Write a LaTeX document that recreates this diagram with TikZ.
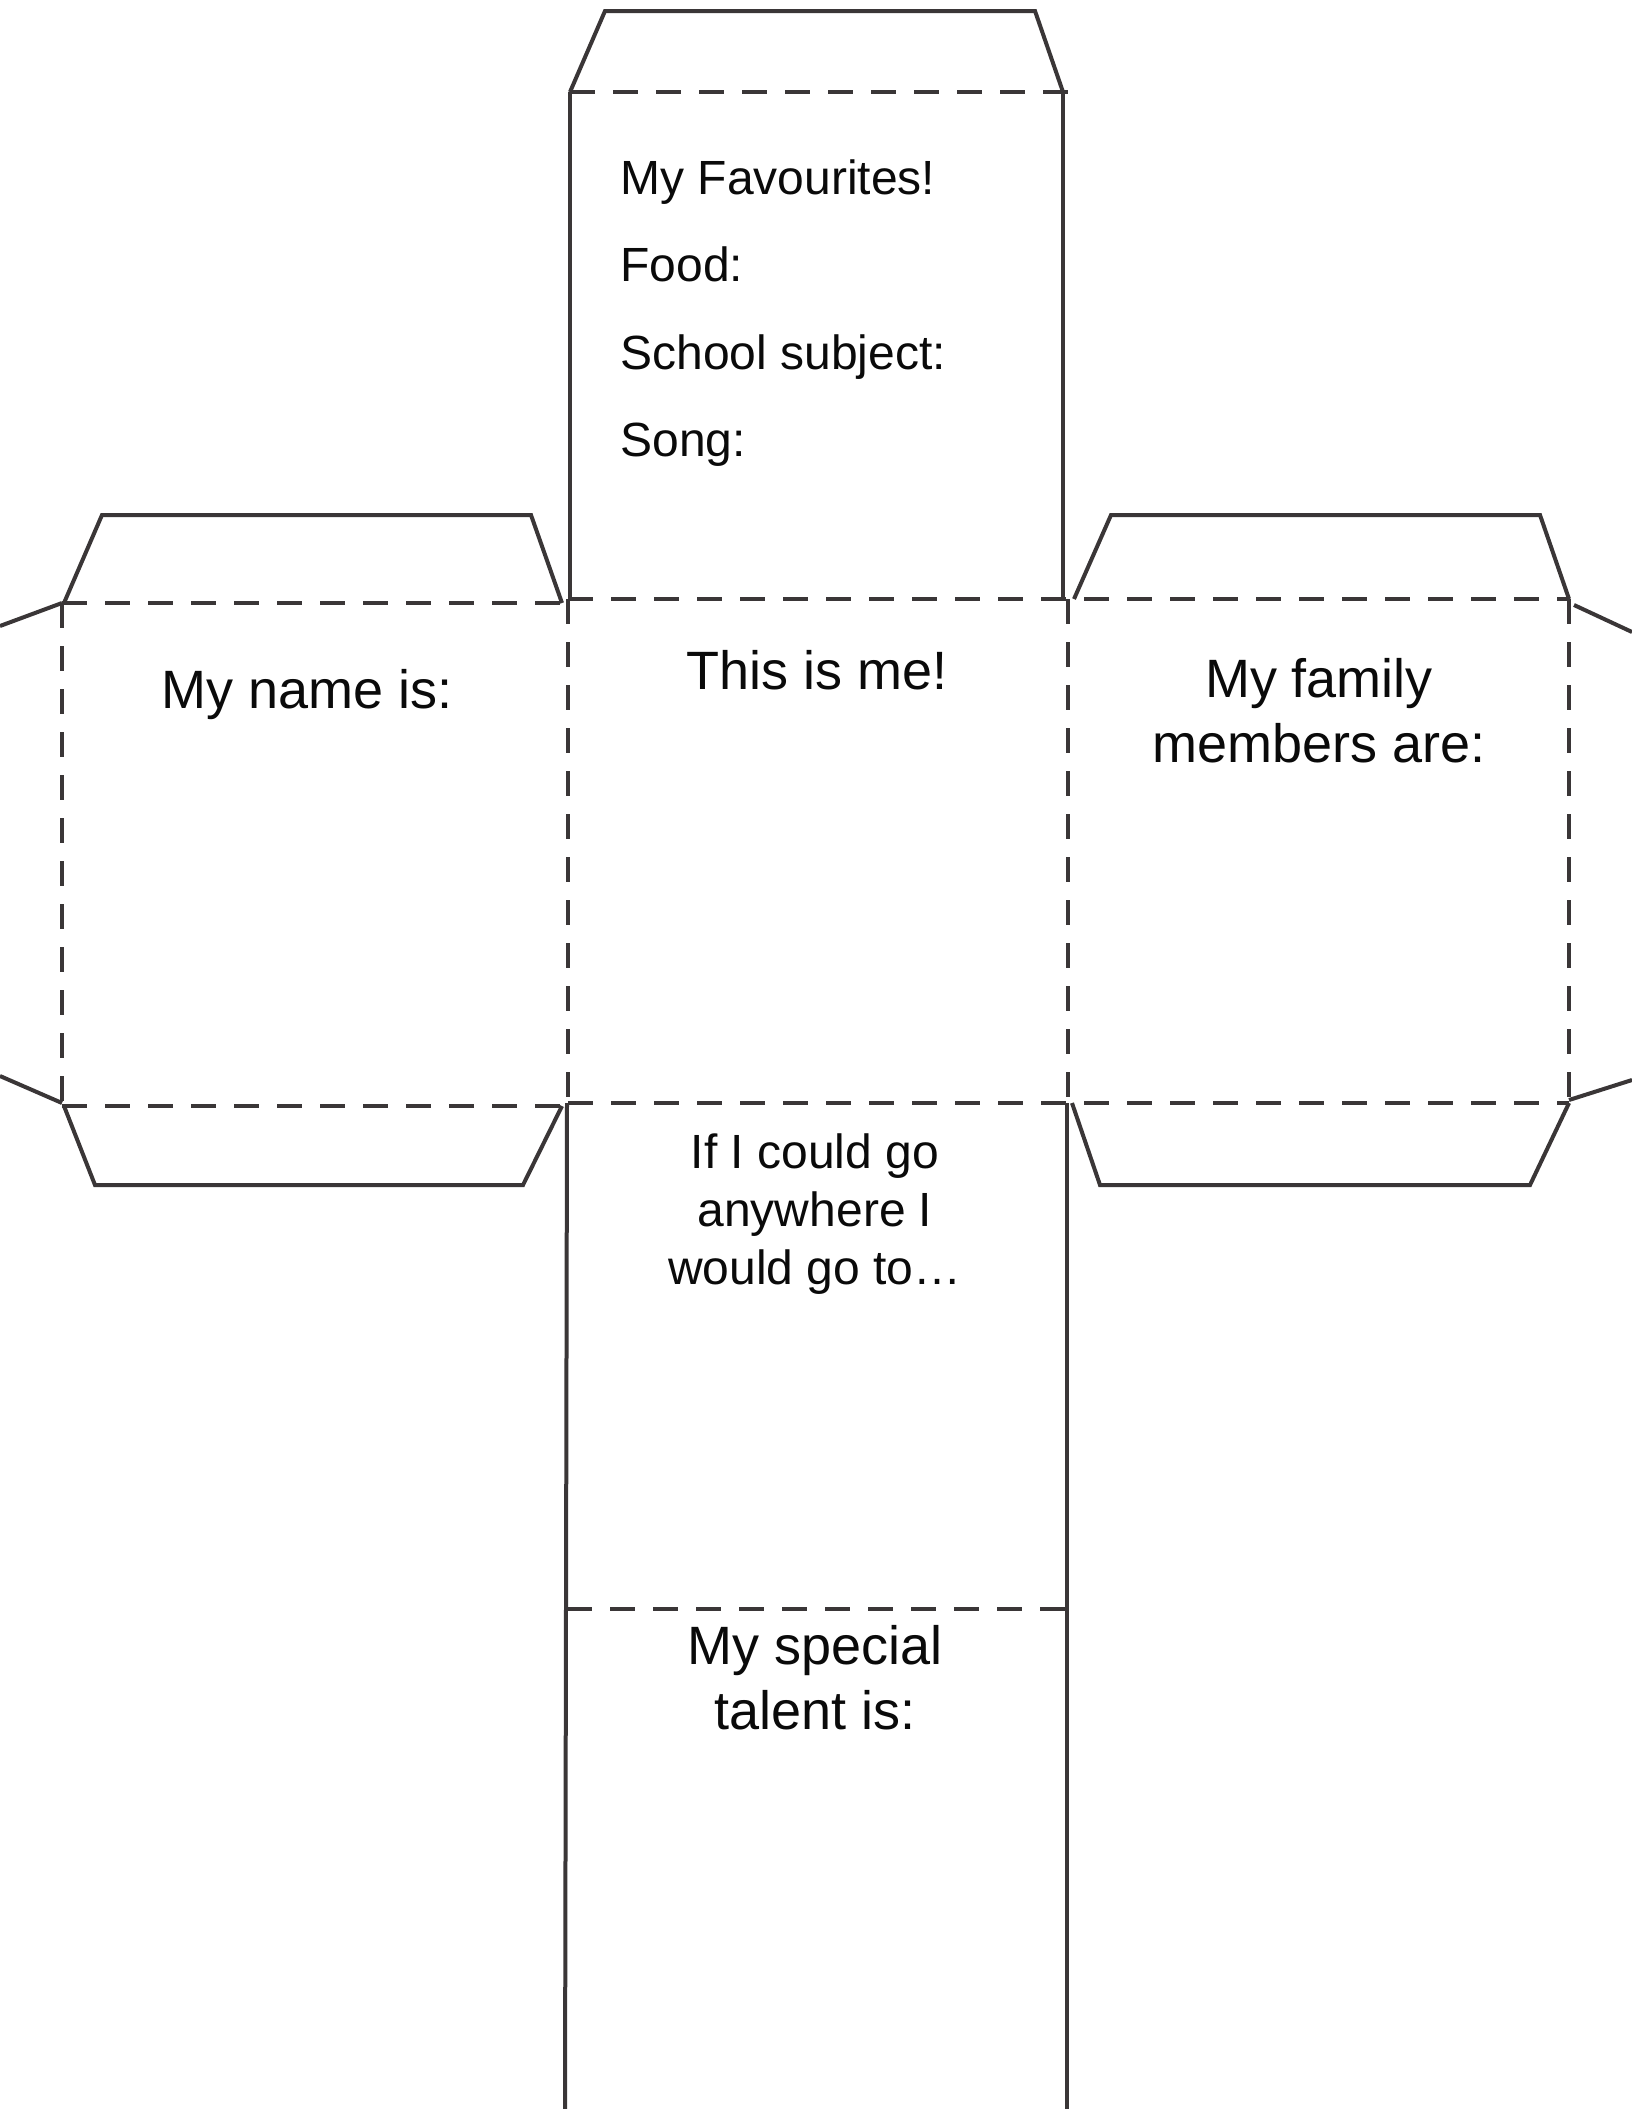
\documentclass[tikz,border=0pt]{standalone}
\usepackage{fontspec}
\setmainfont{Liberation Sans}
\definecolor{ink}{HTML}{3A3637}
\definecolor{txt}{HTML}{0A0A0A}
\begin{document}
\begin{tikzpicture}[x=0.5pt,y=-0.5pt,
  cut/.style={draw=ink,line width=2pt,line join=miter},
  fold/.style={draw=ink,line width=2pt,dash pattern=on 12.5pt off 9pt},
  lbl/.style={inner sep=0pt,anchor=base,text=txt},
  small/.style={font=\fontsize{24}{29}\selectfont},
  big/.style={font=\fontsize{27}{32}\selectfont}]
\useasboundingbox (0,0) rectangle (1632,2109);
% cut lines
\draw[cut] (570,92) -- (605,11) -- (1035,11) -- (1063,92);
\draw[cut] (570,92) -- (570,599);
\draw[cut] (1063,92) -- (1063,599);
\draw[cut] (64,603) -- (102,515) -- (531,515) -- (562,603);
\draw[cut] (1074,599) -- (1111,515) -- (1540,515) -- (1569,599);
\draw[cut] (0,626) -- (62,603);
\draw[cut] (0,1076) -- (62,1103);
\draw[cut] (1574,605) -- (1632,632);
\draw[cut] (1569,1100) -- (1632,1080);
\draw[cut] (64,1106) -- (95,1185) -- (523,1185) -- (562,1106);
\draw[cut] (1072,1103) -- (1100,1185) -- (1530,1185) -- (1569,1103);
\draw[cut] (567,1103) -- (565,2109);
\draw[cut] (1067,1103) -- (1067,2109);
% fold lines
\draw[fold] (570,92) -- (1070,92);
\draw[fold] (62,603) -- (568,603);
\draw[fold] (62,603) -- (62,1106);
\draw[fold] (568,599) -- (568,1106);
\draw[fold] (62,1106) -- (568,1106);
\draw[fold] (568,599) -- (1569,599);
\draw[fold] (568,1103) -- (1569,1103);
\draw[fold] (1068,599) -- (1068,1103);
\draw[fold] (1569,599) -- (1569,1103);
\draw[fold] (567,1609) -- (1067,1609);
% texts
\node[lbl,anchor=base west,small] (fav1) at (620,194) {My Favourites!};
\node[lbl,anchor=base west,small] (fav2) at (620,281) {Food:};
\node[lbl,anchor=base west,small] (fav3) at (620,369) {School subject:};
\node[lbl,anchor=base west,small] (fav4) at (620,456) {Song:};
\node[lbl,big] (me) at (817,689) {This is me!};
\node[lbl,big] (name) at (307,708) {My name is:};
\node[lbl,big] (fam1) at (1319,697) {My family};
\node[lbl,big] (fam2) at (1319,762) {members are:};
\node[lbl,small] (go1) at (815,1168) {If I could go};
\node[lbl,small] (go2) at (815,1226) {anywhere I};
\node[lbl,small] (go3) at (815,1284) {would go to…};
\node[lbl,big] (tal1) at (815,1664) {My special};
\node[lbl,big] (tal2) at (815,1729) {talent is:};
\end{tikzpicture}
\end{document}
